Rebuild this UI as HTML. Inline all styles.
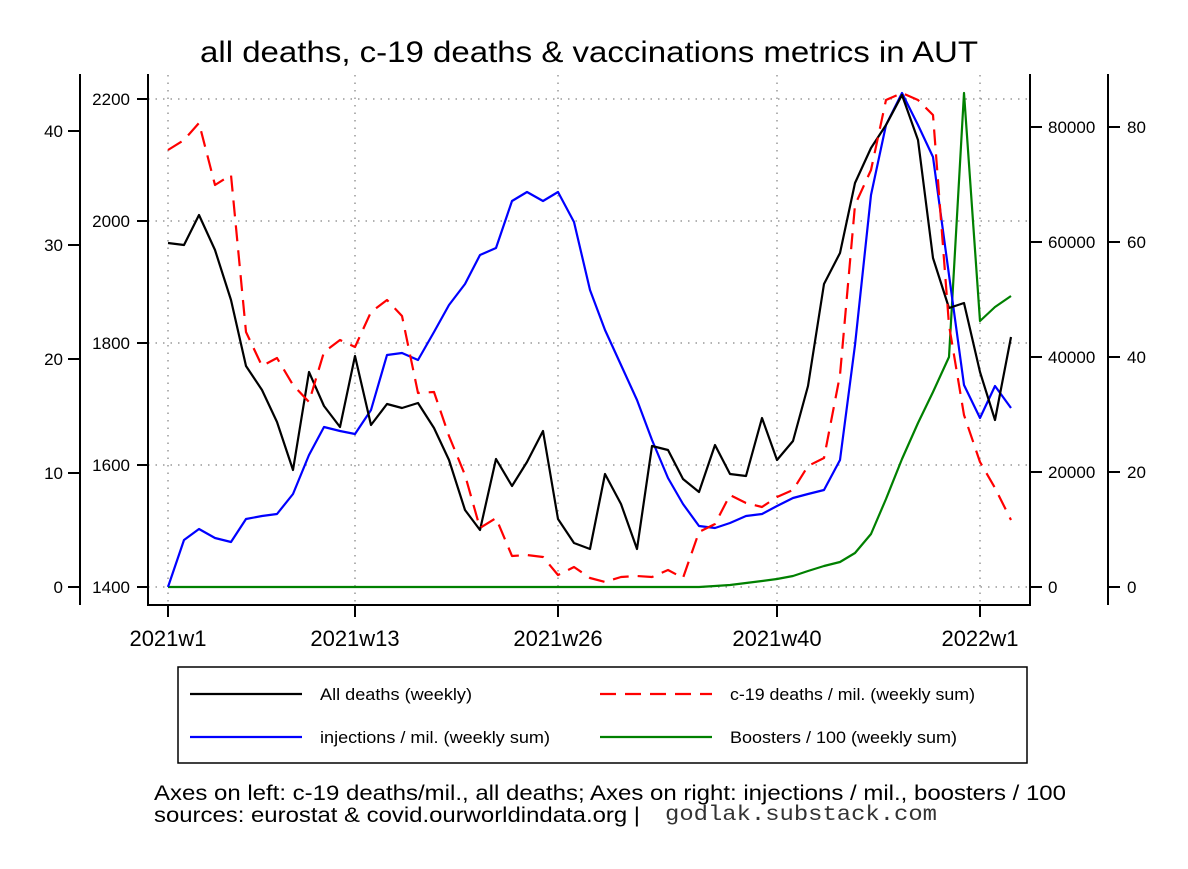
<!DOCTYPE html>
<html><head><meta charset="utf-8"><style>
body{margin:0;background:#fff;}
svg text{font-family:"Liberation Sans",Arial,sans-serif;}
</style></head><body>
<svg width="1188" height="864" xmlns="http://www.w3.org/2000/svg">
<rect width="1188" height="864" fill="#fff"/>
<text x="200" y="62" font-size="30" textLength="778" lengthAdjust="spacingAndGlyphs">all deaths, c-19 deaths &amp; vaccinations metrics in AUT</text>
<g stroke="#999" stroke-width="1.5" stroke-dasharray="1.5,6">
<line x1="148" y1="99" x2="1030" y2="99"/><line x1="148" y1="221" x2="1030" y2="221"/><line x1="148" y1="343" x2="1030" y2="343"/><line x1="148" y1="465" x2="1030" y2="465"/><line x1="148" y1="587" x2="1030" y2="587"/>
<line x1="168" y1="75" x2="168" y2="605"/><line x1="355" y1="75" x2="355" y2="605"/><line x1="558" y1="75" x2="558" y2="605"/><line x1="777" y1="75" x2="777" y2="605"/><line x1="980" y1="75" x2="980" y2="605"/>
</g>
<g stroke="#000" stroke-width="2" fill="none">
<polyline points="148,74 148,605 1030,605 1030,74"/>
<line x1="80" y1="74" x2="80" y2="605"/>
<line x1="1108" y1="74" x2="1108" y2="605"/>
<line x1="68" y1="587" x2="80" y2="587"/><line x1="68" y1="473" x2="80" y2="473"/><line x1="68" y1="359" x2="80" y2="359"/><line x1="68" y1="245" x2="80" y2="245"/><line x1="68" y1="131" x2="80" y2="131"/>
<line x1="137" y1="587" x2="148" y2="587"/><line x1="137" y1="465" x2="148" y2="465"/><line x1="137" y1="343" x2="148" y2="343"/><line x1="137" y1="221" x2="148" y2="221"/><line x1="137" y1="99" x2="148" y2="99"/>
<line x1="1030" y1="587" x2="1042" y2="587"/><line x1="1030" y1="472" x2="1042" y2="472"/><line x1="1030" y1="357" x2="1042" y2="357"/><line x1="1030" y1="242" x2="1042" y2="242"/><line x1="1030" y1="127" x2="1042" y2="127"/>
<line x1="1108" y1="587" x2="1120" y2="587"/><line x1="1108" y1="472" x2="1120" y2="472"/><line x1="1108" y1="357" x2="1120" y2="357"/><line x1="1108" y1="242" x2="1120" y2="242"/><line x1="1108" y1="127" x2="1120" y2="127"/>
<line x1="168" y1="605" x2="168" y2="617"/><line x1="355" y1="605" x2="355" y2="617"/><line x1="558" y1="605" x2="558" y2="617"/><line x1="777" y1="605" x2="777" y2="617"/><line x1="980" y1="605" x2="980" y2="617"/>
</g>
<g font-size="17" text-anchor="end">
<text x="63" y="593">0</text><text x="63" y="479">10</text><text x="63" y="365">20</text><text x="63" y="251">30</text><text x="63" y="137">40</text>
<text x="130" y="593">1400</text><text x="130" y="471">1600</text><text x="130" y="349">1800</text><text x="130" y="227">2000</text><text x="130" y="105">2200</text>
</g>
<g font-size="17">
<text x="1048" y="593">0</text><text x="1048" y="478">20000</text><text x="1048" y="363">40000</text><text x="1048" y="248">60000</text><text x="1048" y="133">80000</text>
<text x="1127" y="593">0</text><text x="1127" y="478">20</text><text x="1127" y="363">40</text><text x="1127" y="248">60</text><text x="1127" y="133">80</text>
</g>
<g font-size="22" text-anchor="middle">
<text x="168" y="646">2021w1</text><text x="355" y="646">2021w13</text><text x="558" y="646">2021w26</text><text x="777" y="646">2021w40</text><text x="980" y="646">2022w1</text>
</g>
<g fill="none" stroke-width="2.2" stroke-linejoin="round">
<polyline stroke="#008000" points="168,587 699,587 715,586 730,585 746,583 762,581 777,579 793,576 808,571 824,566 840,562 855,553 871,534 886,499 902,459 918,423 933,392 949,357 964,93 980,321 995,307 1011,296"/>
<polyline stroke="#0000ff" points="168,587 184,540 199,529 215,538 231,542 246,519 262,516 277,514 293,494 309,455 324,427 340,431 355,434 371,410 387,355 402,353 418,360 434,332 449,305 465,284 480,255 496,248 512,201 527,192 543,201 558,192 574,222 590,290 605,330 621,365 637,400 652,440 668,478 683,504 699,526 715,528 730,523 746,516 762,514 777,506 793,498 808,494 824,490 840,460 855,345 871,195 886,125 902,93 918,125 933,157 949,275 964,385 980,418 995,386 1011,408"/>
<polyline stroke="#000" points="168,243 184,245 199,215 215,250 231,300 246,366 262,390 277,422 293,470 309,372 324,406 340,427 355,356 371,425 387,404 402,408 418,403 434,428 449,460 465,510 480,530 496,459 512,486 527,462 543,431 558,519 574,543 590,549 605,474 621,504 637,549 652,446 668,450 683,479 699,492 715,445 730,474 746,476 762,418 777,460 793,441 808,386 824,284 840,253 855,183 871,148 886,125 902,95 918,140 933,258 949,308 964,303 980,372 995,420 1011,337"/>
<polyline stroke="#ff0000" stroke-dasharray="16,9" points="168,150 184,140 199,123 215,185 231,175 246,332 262,366 277,358 293,385 309,402 324,352 340,340 355,347 371,312 387,300 402,316 418,393 434,392 449,436 465,475 480,528 496,518 512,556 527,555 543,557 558,575 574,567 590,578 605,582 621,577 637,576 652,577 668,570 683,578 699,532 715,524 730,495 746,503 762,507 777,497 793,490 808,466 824,458 840,375 855,205 871,170 886,100 902,93 918,100 933,115 949,325 964,415 980,462 995,488 1011,520"/>
</g>
<rect x="178" y="667" width="849" height="96" fill="none" stroke="#000" stroke-width="1.5"/>
<g stroke-width="2.2">
<line x1="190" y1="694" x2="302" y2="694" stroke="#000"/>
<line x1="190" y1="737" x2="302" y2="737" stroke="#0000ff"/>
<line x1="600" y1="694" x2="712" y2="694" stroke="#ff0000" stroke-dasharray="16,9"/>
<line x1="600" y1="737" x2="712" y2="737" stroke="#008000"/>
</g>
<g font-size="17">
<text x="320" y="700" textLength="152" lengthAdjust="spacingAndGlyphs">All deaths (weekly)</text>
<text x="320" y="743" textLength="230" lengthAdjust="spacingAndGlyphs">injections / mil. (weekly sum)</text>
<text x="730" y="700" textLength="245" lengthAdjust="spacingAndGlyphs">c-19 deaths / mil. (weekly sum)</text>
<text x="730" y="743" textLength="227" lengthAdjust="spacingAndGlyphs">Boosters / 100 (weekly sum)</text>
</g>
<text x="154" y="800" font-size="21" textLength="912" lengthAdjust="spacingAndGlyphs">Axes on left: c-19 deaths/mil., all deaths; Axes on right: injections / mil., boosters / 100</text>
<text x="154" y="822" font-size="21" textLength="486" lengthAdjust="spacingAndGlyphs">sources: eurostat &amp; covid.ourworldindata.org |</text>
<text x="665" y="820" font-size="21" fill="#333" textLength="272" lengthAdjust="spacingAndGlyphs" style="font-family:'Liberation Mono',monospace">godlak.substack.com</text>
</svg>
</body></html>
